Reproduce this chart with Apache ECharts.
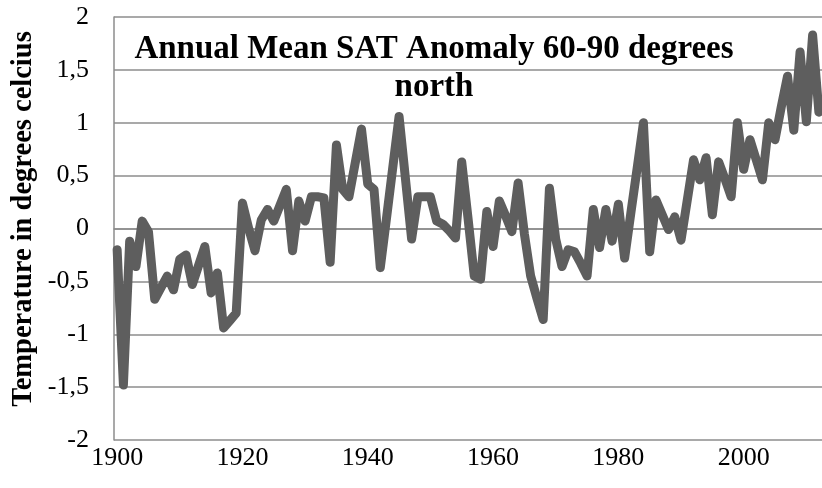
<!doctype html>
<html lang="en">
<head>
    <meta charset="UTF-8">
    <title>Annual Mean SAT Anomaly 60-90 degrees north</title>
    <script src="https://cdn.jsdelivr.net/npm/echarts@6/dist/echarts.min.js"></script>
    <style>
        html, body { margin: 0; padding: 0; background: #fff; }
        #chart { width: 822px; height: 488px; }
    </style>
</head>
<body>
<div id="chart"></div>
<script>
    // years on the category axis, 1900 .. 2012
    const years = []
    for (let y = 1900; y <= 2012; y++) years.push(String(y))

    // annual mean anomaly
    const anomaly = [
        -0.20, -1.48, -0.12, -0.36, 0.07, -0.03, -0.67, -0.56, -0.45, -0.58,   // 1900
        -0.29, -0.25, -0.53, -0.35, -0.17, -0.61, -0.42, -0.94, -0.87, -0.80,  // 1910
        0.24, 0.00, -0.21, 0.08, 0.18, 0.07, 0.22, 0.37, -0.21, 0.26,          // 1920
        0.07, 0.30, 0.30, 0.29, -0.32, 0.79, 0.37, 0.30, 0.62, 0.94,           // 1930
        0.42, 0.37, -0.37, 0.10, 0.58, 1.06, 0.48, -0.10, 0.30, 0.30,          // 1940
        0.30, 0.07, 0.04, -0.02, -0.09, 0.63, 0.10, -0.45, -0.48, 0.16,        // 1950
        -0.17, 0.26, 0.12, -0.03, 0.43, -0.05, -0.45, -0.66, -0.86, 0.38,      // 1960
        -0.10, -0.36, -0.20, -0.22, -0.33, -0.45, 0.18, -0.18, 0.18, -0.12,    // 1970
        0.23, -0.28, 0.15, 0.57, 1.00, -0.22, 0.27, 0.13, -0.01, 0.11,         // 1980
        -0.11, 0.27, 0.65, 0.46, 0.67, 0.13, 0.63, 0.47, 0.30, 1.00,           // 1990
        0.56, 0.84, 0.65, 0.46, 1.00, 0.84, 1.15, 1.44, 0.93, 1.67,            // 2000
        1.01, 1.83, 1.10                                                       // 2010
    ]

    const yTicks = { min: -2, max: 2, step: 0.5 }
    const titleText = 'Annual Mean SAT Anomaly 60-90 degrees\nnorth'
    const yName = 'Temperature in degrees celcius'

    const serif = '"Liberation Serif", "Times New Roman", serif'
    const gridColor = '#8c8c8c'

    const chart = echarts.init(document.getElementById('chart'), null, {renderer: 'canvas'})
    const option = {
        animation: false,
        backgroundColor: '#fff',
        grid: {
            left: 114,
            top: 17,
            width: 711,   // runs a little past the right edge, as in the picture
            height: 423
        },
        xAxis: {
            type: 'category',
            data: years,
            boundaryGap: true,
            axisTick: {show: false},
            axisLine: {show: true, lineStyle: {color: gridColor, width: 1.5}},
            axisLabel: {
                interval: function (i) { return i % 20 === 0 },
                margin: 5,
                color: '#000',
                fontFamily: serif,
                fontSize: 26
            },
            splitLine: {show: false}
        },
        yAxis: {
            type: 'value',
            min: yTicks.min,
            max: yTicks.max,
            interval: yTicks.step,
            axisTick: {show: false},
            axisLine: {show: true, lineStyle: {color: gridColor, width: 1.5}},
            axisLabel: {
                margin: 25,
                color: '#000',
                fontFamily: serif,
                fontSize: 26,
                formatter: function (v) { return String(v).replace('.', ',') }
            },
            splitLine: {lineStyle: {color: gridColor, width: 1.5}}
        },
        graphic: [
            {
                type: 'text',
                x: 434,
                y: 30,
                style: {
                    text: titleText,
                    textAlign: 'center',
                    textVerticalAlign: 'top',
                    font: 'bold 33px ' + serif,
                    lineHeight: 38,
                    fill: '#000'
                },
                z: 100
            },
            {
                // y axis title, drawn by hand so it sits where the original has it
                type: 'text',
                x: 24,
                y: 219,
                rotation: Math.PI / 2,
                style: {
                    text: yName,
                    textAlign: 'center',
                    textVerticalAlign: 'middle',
                    font: 'bold 28.5px ' + serif,
                    fill: '#000'
                }
            }
        ],
        series: [
            {
                type: 'line',
                data: anomaly,
                showSymbol: false,
                symbol: 'none',
                lineStyle: {color: '#5e5e5e', width: 9, cap: 'round', join: 'round'}
            }
        ]
    }
    chart.setOption(option)
</script>
</body>
</html>
